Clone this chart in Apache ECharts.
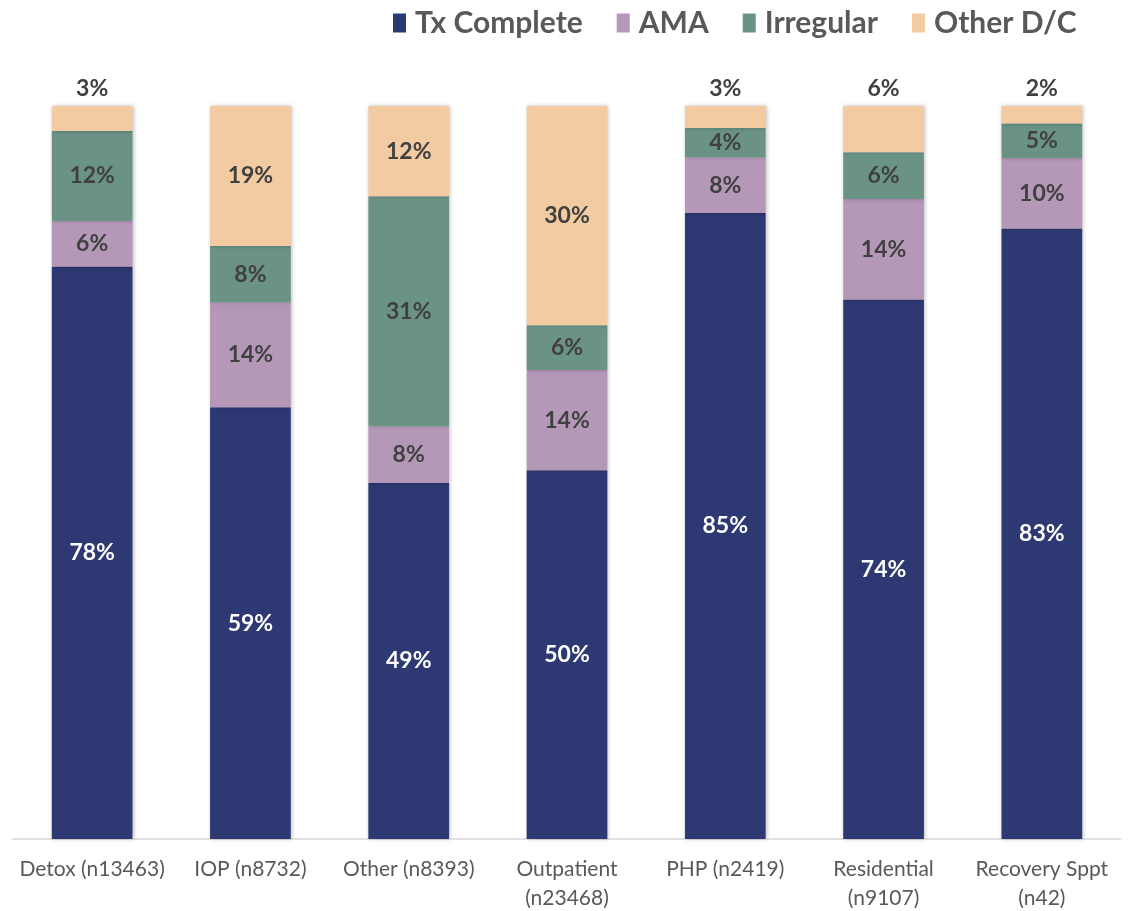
<!DOCTYPE html>
<html>
<head>
<meta charset="utf-8">
<script src="https://cdn.jsdelivr.net/npm/echarts@6/dist/echarts.min.js"></script>
<style>
  html, body { margin: 0; padding: 0; background: #fff; }
  #myChart { width: 1133px; height: 911px; }
</style>
</head>
<body>
<div id="myChart"></div>
<script>
// program types (x axis)
var categories = ['Detox (n13463)', 'IOP (n8732)', 'Other (n8393)', 'Outpatient\n(n23468)',
  'PHP (n2419)', 'Residential\n(n9107)', 'Recovery Sppt\n(n42)']

// share of discharges, percent
var txComplete = [78.1, 58.9, 48.6, 50.3, 85.4, 73.6, 83.3]
var ama = [6.2, 14.3, 7.7, 13.7, 7.6, 13.7, 9.6]
var irregular = [12.3, 7.7, 31.4, 6.1, 4.0, 6.4, 4.7]
var otherDC = [3.4, 19.1, 12.3, 29.9, 3.0, 6.3, 2.4]

var colors = ['#2E3872', '#B598B8', '#6A9386', '#F2CBA3']
var names = ['Tx Complete', 'AMA', 'Irregular', 'Other D/C']

function pct (p) { return Math.round(p.value) + '%' }

function makeSeries (name, data, color, labelColor) {
  return {
    name: name,
    type: 'bar',
    stack: 'total',
    barWidth: '51%',
    data: data,
    itemStyle: {
      color: color,
      shadowColor: 'rgba(0,0,0,0.25)',
      shadowBlur: 4,
      shadowOffsetX: 1
    },
    label: {
      show: true,
      position: 'inside',
      formatter: pct,
      color: labelColor,
      fontFamily: 'Lato',
      fontWeight: 'bold',
      fontSize: 23
    }
  }
}

var series = [
  makeSeries(names[0], txComplete, colors[0], '#ffffff'),
  makeSeries(names[1], ama, colors[1], '#404040'),
  makeSeries(names[2], irregular, colors[2], '#404040'),
  makeSeries(names[3], otherDC.map(function (v) {
    // small top slices get their label above the bar
    if (v < 10) return { value: v, label: { position: 'top', distance: 6 } }
    return v
  }), colors[3], '#404040')
]

var myChart = echarts.init(document.getElementById('myChart'))
myChart.setOption({
  animation: false,
  legend: {
    data: names,
    top: 3,
    left: 388,
    itemWidth: 13,
    itemHeight: 19,
    itemGap: 34,
    icon: 'rect',
    textStyle: {
      fontFamily: 'Lato',
      fontWeight: 'bold',
      fontSize: 30,
      color: '#595959',
      padding: [0, 0, 0, 4]
    }
  },
  grid: {
    left: 13,
    right: 12,
    top: 106,
    bottom: 72,
    containLabel: false,
    outerBoundsMode: 'none'
  },
  xAxis: {
    type: 'category',
    data: categories,
    axisTick: { show: false },
    axisLine: { lineStyle: { color: '#d9d9d9', width: 1.5 } },
    axisLabel: {
      interval: 0,
      margin: 16,
      fontFamily: 'Lato',
      fontSize: 21,
      lineHeight: 29,
      color: '#595959'
    }
  },
  yAxis: {
    type: 'value',
    min: 0,
    max: 100,
    show: false
  },
  series: series
})
</script>
</body>
</html>
